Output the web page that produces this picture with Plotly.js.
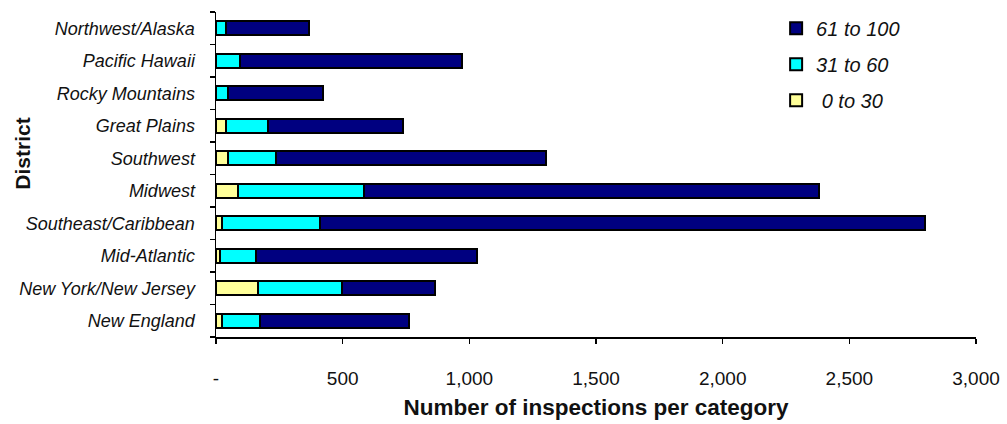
<!DOCTYPE html>
<html>
<head>
<meta charset="utf-8">
<script src="https://cdn.plot.ly/plotly-3.0.1.min.js"></script>
<style>html,body{margin:0;padding:0;background:#fff;}#chart{width:1007px;height:424px;}</style>
</head>
<body>
<div id="chart"></div>
<script>
const districts = ["New England","New York/New Jersey","Mid-Atlantic","Southeast/Caribbean","Midwest","Southwest","Great Plains","Rocky Mountains","Pacific Hawaii","Northwest/Alaska"];
const low0to30   = [24, 167, 17, 24, 87, 47, 39, 0, 0, 0];
const mid31to60  = [150, 332, 141, 385, 497, 191, 166, 47, 93, 39];
const high61to100 = [588, 365, 871, 2388, 1795, 1066, 532, 374, 880, 327];
const seriesNames = [" 0 to 30", "31 to 60", "61 to 100"];
const seriesColors = ["#FFFF99", "#00FFFF", "#000080"];
const xTickVals = [0, 500, 1000, 1500, 2000, 2500, 3000];
const xTickText = ["-", "500", "1,000", "1,500", "2,000", "2,500", "3,000"];

const seriesVals = [low0to30, mid31to60, high61to100];
const traces = seriesVals.map((v, i) => ({
  type: "bar", orientation: "h", y: districts, x: v, name: seriesNames[i],
  legendgroup: "g" + i, legendrank: 3 - i,
  marker: {color: seriesColors[i], line: {color: "#000", width: 2}},
  hoverinfo: "x+y+name"
}));

const font = "'Liberation Sans', Arial, sans-serif";
const layout = {
  width: 1007, height: 424,
  margin: {l: 216, r: 31, t: 9, b: 87},
  paper_bgcolor: "#fff", plot_bgcolor: "#fff",
  barmode: "stack", bargap: 0.57,
  showlegend: true,
  legend: {x: 0.737, y: 1.01, xanchor: "left", yanchor: "top", traceorder: "grouped",
    tracegroupgap: 7, font: {family: font, size: 20, color: "#111", style: "italic"},
    bgcolor: "rgba(0,0,0,0)", itemwidth: 30},
  xaxis: {range: [0, 3000], tickvals: xTickVals, ticktext: xTickText, showgrid: false, zeroline: false,
    showline: true, linecolor: "#000", linewidth: 1.5, ticks: "outside", ticklen: 5, tickwidth: 1.5, tickcolor: "#000",
    ticklabelstandoff: 19, tickfont: {family: font, size: 19, color: "#111"},
    title: {text: "Number of inspections per category", standoff: 11, font: {family: font, size: 22.5, color: "#111", weight: "bold"}}},
  xaxis2: {overlaying: "x", range: [0, 3000], tickvals: xTickVals, showticklabels: false, showgrid: false, zeroline: false,
    ticks: "inside", ticklen: 5, tickwidth: 1.5, tickcolor: "#000", side: "bottom", showline: false},
  yaxis: {type: "category", categoryorder: "array", categoryarray: districts, showgrid: false, zeroline: false,
    showline: true, linecolor: "#000", linewidth: 1.5, ticks: "outside", tickson: "boundaries", ticklen: 5, tickwidth: 1.5, tickcolor: "#000",
    ticklabelstandoff: 16, tickfont: {family: font, size: 18, color: "#111", style: "italic"}},
  yaxis2: {overlaying: "y", range: [-0.5, 9.5], tick0: -0.5, dtick: 1, showticklabels: false, showgrid: false, zeroline: false,
    ticks: "inside", ticklen: 5, tickwidth: 1.5, tickcolor: "#000", side: "left", showline: false},
  annotations: [{text: "District", xref: "paper", yref: "paper", x: -0.254, y: 0.564, xanchor: "center", yanchor: "middle", textangle: -90,
    showarrow: false, font: {family: font, size: 21, color: "#111", weight: "bold"}}]
};

Plotly.newPlot("chart", traces, layout, {displayModeBar: false, staticPlot: true});
</script>
</body>
</html>
